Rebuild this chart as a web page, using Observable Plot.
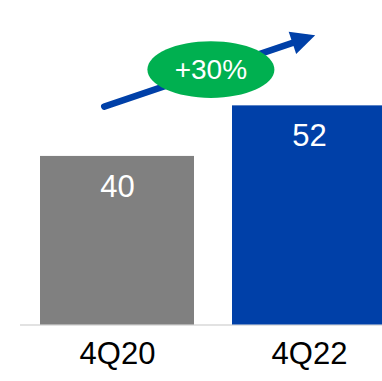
<!DOCTYPE html>
<html><head><meta charset="utf-8">
<script src="https://cdn.jsdelivr.net/npm/d3@7"></script>
<script src="https://cdn.jsdelivr.net/npm/@observablehq/plot@0.6"></script>
<style>html,body{margin:0;padding:0;background:#fff;overflow:hidden}</style>
</head><body><div id="chart"></div>
<script>
const categories = ["4Q20", "4Q22"];
const values = [40, 52];
const growthLabel = "+30%";
const arrowFrom = ["4Q20", 52.9];
const arrowTo = ["4Q22", 68.3];

const bars = categories.map((c, i) => ({cat: c, value: values[i]}));
const arrow = [{x1: arrowFrom[0], y1: arrowFrom[1], x2: arrowTo[0], y2: arrowTo[1]}];
const badge = [{x: arrowFrom[0], y: (arrowFrom[1] + arrowTo[1]) / 2, label: growthLabel}];

const ellipseSymbol = {draw(ctx, size) {
  const rx = Math.sqrt(size / Math.PI), ry = rx * 0.446, k = 0.5523;
  ctx.moveTo(rx, 0);
  ctx.bezierCurveTo(rx, ry * k, rx * k, ry, 0, ry);
  ctx.bezierCurveTo(-rx * k, ry, -rx, ry * k, -rx, 0);
  ctx.bezierCurveTo(-rx, -ry * k, -rx * k, -ry, 0, -ry);
  ctx.bezierCurveTo(rx * k, -ry, rx, -ry * k, rx, 0);
  ctx.closePath();
}};
const headSymbol = {draw(ctx) {
  ctx.moveTo(0, -6);
  ctx.lineTo(11.75, 18);
  ctx.lineTo(-11.75, 18);
  ctx.closePath();
}};

const blue = "#0040A8";
const chart = Plot.plot({
  width: 382, height: 381,
  marginTop: 0, marginBottom: 56.5, marginLeft: 20, marginRight: 0,
  x: {axis: null, type: "band", domain: categories, range: [39, 386], paddingInner: 0.2, paddingOuter: 0},
  y: {axis: null, domain: [0, 77]},
  color: {domain: categories, range: ["#808080", blue]},
  style: {fontFamily: "Arial, 'Liberation Sans', sans-serif", background: "white", overflow: "hidden"},
  marks: [
    Plot.ruleY([0], {stroke: "#d9d9d9", strokeWidth: 1.5}),
    Plot.barY(bars, {x: "cat", y: "value", fill: "cat"}),
    Plot.text(bars, {x: "cat", y: "value", text: d => String(d.value), dy: 30.5, fill: "white", fontSize: 31}),
    Plot.text(categories, {x: d => d, frameAnchor: "bottom", dy: 38.5, fontSize: 31, fill: "#000"}),
    Plot.arrow(arrow, {x1: "x1", y1: "y1", x2: "x2", y2: "y2", stroke: blue, strokeWidth: 6.5, headLength: 0, insetStart: -14, insetEnd: 3}),
    Plot.dot([arrowTo], {x: d => d[0], y: d => d[1], symbol: headSymbol, r: 10, fill: blue, stroke: "none", rotate: 71.4}),
    Plot.dot(badge, {x: "x", y: "y", dx: 93.4, symbol: ellipseSymbol, r: 63.5, fill: "#00B050", stroke: "none"}),
    Plot.text(badge, {x: "x", y: "y", dx: 93.4, text: "label", fill: "white", fontSize: 28})
  ]
});
document.getElementById("chart").appendChild(chart);
</script>
</body></html>
